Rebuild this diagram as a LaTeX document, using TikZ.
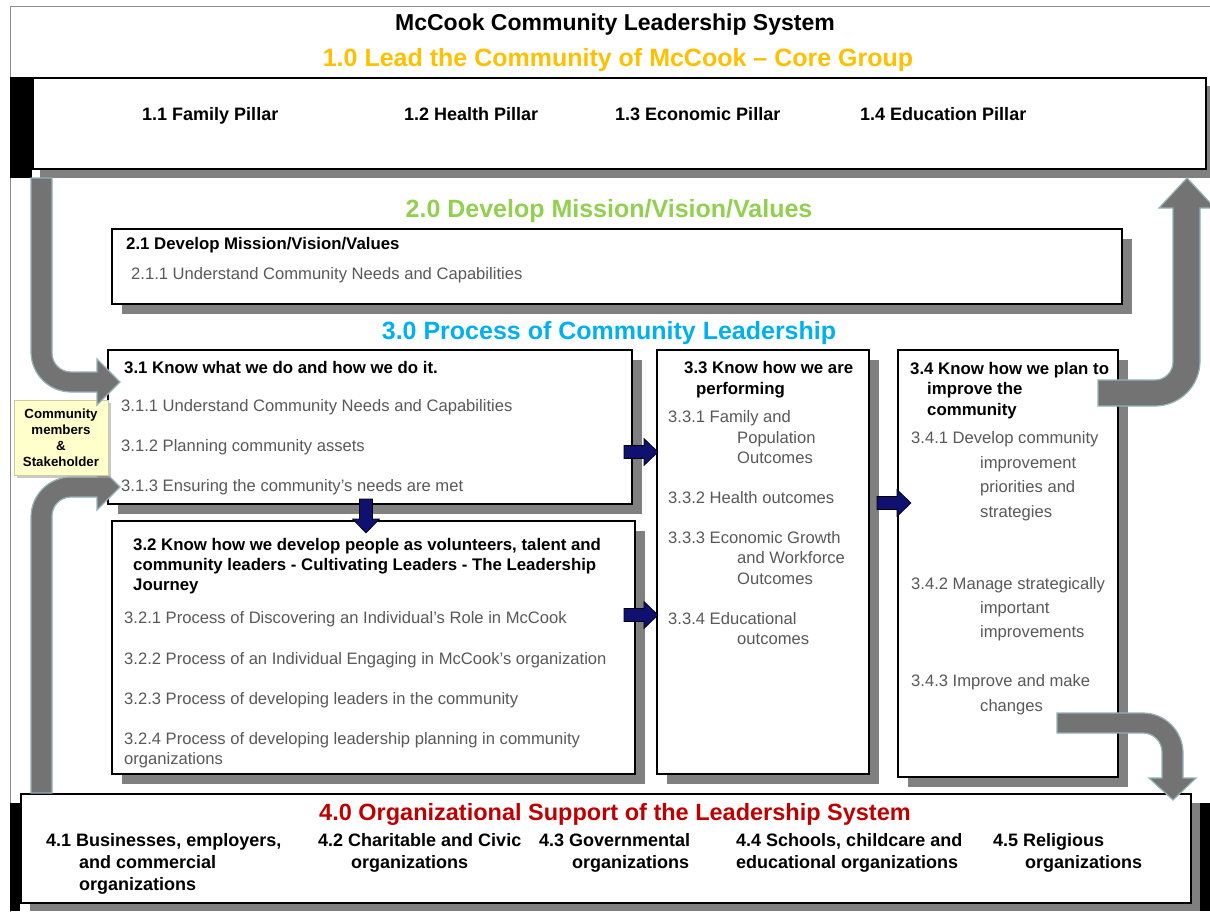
\documentclass[tikz,border=0pt]{standalone}
\usepackage{fontspec}
\setmainfont{Liberation Sans}
\usetikzlibrary{shadows}
\definecolor{gold}{HTML}{FFC000}
\definecolor{mgreen}{HTML}{92D050}
\definecolor{mblue}{HTML}{00B0F0}
\definecolor{mred}{HTML}{C00000}
\definecolor{itemgray}{HTML}{595959}
\definecolor{shadowgray}{HTML}{808080}
\definecolor{arrowgray}{HTML}{737373}
\definecolor{arrowedge}{HTML}{93B3B7}
\definecolor{navy}{RGB}{16,16,112}
\definecolor{cream}{HTML}{FFFFCC}
\definecolor{framegray}{HTML}{8C8C8C}
\begin{document}
\begin{tikzpicture}[x=1pt,y=-1pt,
  box/.style={draw=black, line width=1.6pt, fill=white, inner sep=0pt, anchor=north west,
    drop shadow={shadow xshift=10pt, shadow yshift=-10pt, fill=shadowgray, opacity=1}},
  plainbox/.style={draw=black, line width=1.6pt, fill=white, inner sep=0pt, anchor=north west},
  hd/.style={anchor=base west, inner sep=0pt, font={\fontsize{16.8}{20}\selectfont\bfseries}, text=black},
  it/.style={anchor=base west, inner sep=0pt, font={\fontsize{16.6}{20}\selectfont}, text=itemgray},
  pil/.style={anchor=base west, inner sep=0pt, font={\fontsize{18}{22}\selectfont\bfseries}, text=black},
  big/.style={anchor=base, inner sep=0pt, font={\fontsize{25}{28}\selectfont\bfseries}},
  bigarrow/.style={fill=arrowgray, draw=arrowedge, line width=1.2pt, line join=miter},
  navyarrow/.style={fill=navy, draw=black, line width=0.6pt, line join=miter},
  commbox/.style={fill=cream, draw=cream!80!black, line width=0.4pt, align=center,
    font={\fontsize{13.3}{16}\selectfont\bfseries}, inner sep=0pt,
    drop shadow={shadow xshift=3pt, shadow yshift=-3pt, fill=black!35, opacity=0.6}}
]
\clip (0,0) rectangle (1210,911);
\fill[white] (0,0) rectangle (1210,911);
% outer frame
\draw[framegray, line width=1pt] (10,6) rectangle (1230,930);

% titles
\node[anchor=base, inner sep=0pt, font={\fontsize{23}{26}\selectfont\bfseries}] (title) at (615,30) {McCook Community Leadership System};
\node[big, text=gold] (t10) at (618,66) {1.0 Lead the Community of McCook – Core Group};

% pillar box
\fill[black] (10,77) rectangle (32,178);
\fill[shadowgray] (40,86) rectangle (1215,178);
\node[plainbox, minimum width=1173pt, minimum height=91pt] (b10) at (32,77) {};
\node[pil] (p11) at (142,120.5) {1.1 Family Pillar};
\node[pil] (p12) at (404,120.5) {1.2 Health Pillar};
\node[pil] (p13) at (615,120.5) {1.3 Economic Pillar};
\node[pil] (p14) at (860,120.5) {1.4 Education Pillar};

% 4.0 box
\fill[shadowgray] (30,803) rectangle (1200,911);
\fill[black] (10,803) rectangle (20,911);
\fill[black] (1200,803) rectangle (1210,911);
\node[plainbox, minimum width=1170pt, minimum height=109pt] (b40) at (20,793) {};

% 2.0
\node[big, text=mgreen] (t20) at (609,217) {2.0 Develop Mission/Vision/Values};
\node[box, minimum width=1010pt, minimum height=75pt] (b21) at (111,228) {};

% 3.0
\node[big, text=mblue] (t30) at (609,339) {3.0 Process of Community Leadership};
\node[box, minimum width=524pt, minimum height=154pt] (b31) at (107,349) {};
\node[box, minimum width=523pt, minimum height=253pt] (b32) at (111,520) {};
\node[box, minimum width=212pt, minimum height=424pt] (b33) at (656,349) {};
\node[box, minimum width=220pt, minimum height=427pt] (b34) at (897,349) {};

% big grey arrows (left)
\draw[bigarrow] (31,793) -- (31,517) .. controls (31,495) and (49,477) .. (71,477) -- (97,477) -- (97,464) -- (120,487) -- (97,510) -- (97,497) -- (71,497) .. controls (60.5,497) and (52,505.5) .. (52,516) -- (52,793) -- cycle;
\node[commbox, minimum width=94pt, minimum height=75pt] (comm) at (61,437.5) {Community\\members\\\&\\Stakeholder};
\draw[bigarrow] (31,178) -- (31,352) .. controls (31,374) and (49,392) .. (71,392) -- (97,392) -- (97,405) -- (120,382) -- (97,359) -- (97,372) -- (71,372) .. controls (60.5,372) and (52,363.5) .. (52,353) -- (52,178) -- cycle;

% big grey arrows (right)
\draw[bigarrow] (1098,380) -- (1155,380) .. controls (1164.9,380) and (1173,371.9) .. (1173,362) -- (1173,208) -- (1159,208) -- (1187,178) -- (1215,208) -- (1200,208) -- (1200,361) .. controls (1200,385.9) and (1179.9,406) .. (1155,406) -- (1098,406) -- cycle;
\draw[bigarrow] (1057,713) -- (1143,713) .. controls (1165,713) and (1183,731) .. (1183,753) -- (1183,778) -- (1196,778) -- (1173,800) -- (1149,778) -- (1162,778) -- (1162,752) .. controls (1162,741.5) and (1153.5,733) .. (1143,733) -- (1057,733) -- cycle;

% navy block arrows (tip at shift point)
\draw[navyarrow, shift={(658,452)}] (-34,-6.5) -- (-14,-6.5) -- (-14,-13.5) -- (0,0) -- (-14,13.5) -- (-14,6.5) -- (-34,6.5) -- cycle;
\draw[navyarrow, shift={(658,615)}] (-34,-6.5) -- (-14,-6.5) -- (-14,-13.5) -- (0,0) -- (-14,13.5) -- (-14,6.5) -- (-34,6.5) -- cycle;
\draw[navyarrow, shift={(911,503)}] (-34,-6.5) -- (-14,-6.5) -- (-14,-13.5) -- (0,0) -- (-14,13.5) -- (-14,6.5) -- (-34,6.5) -- cycle;
\draw[navyarrow, shift={(366,533)}] (-6.5,-34) -- (-6.5,-14) -- (-13.5,-14) -- (0,0) -- (13.5,-14) -- (6.5,-14) -- (6.5,-34) -- cycle;

% 2.1 texts
\node[hd] (h21) at (126,249) {2.1 Develop Mission/Vision/Values};
\node[it] (i211) at (131,279) {2.1.1 Understand Community Needs and Capabilities};

% 3.1 texts
\node[hd] (h31) at (124,373) {3.1 Know what we do and how we do it.};
\node[it] (i311) at (121,411) {3.1.1 Understand Community Needs and Capabilities};
\node[it] (i312) at (121,451) {3.1.2 Planning community assets};
\node[it] (i313) at (121,491) {3.1.3 Ensuring the community’s needs are met};

% 3.2 texts
\node[hd] (h32a) at (133,550) {3.2 Know how we develop people as volunteers, talent and};
\node[hd] (h32b) at (133,570) {community leaders - Cultivating Leaders - The Leadership};
\node[hd] (h32c) at (133,590) {Journey};
\node[it] (i321) at (124,623) {3.2.1 Process of Discovering an Individual’s Role in McCook};
\node[it] (i322) at (124,664) {3.2.2 Process of an Individual Engaging in McCook’s organization};
\node[it] (i323) at (124,704) {3.2.3 Process of developing leaders in the community};
\node[it] (i324a) at (124,744) {3.2.4 Process of developing leadership planning in community};
\node[it] (i324b) at (124,764) {organizations};

% 3.3 texts
\node[hd] (h33a) at (684,373) {3.3 Know how we are};
\node[hd] (h33b) at (696,394) {performing};
\node[it] (i331a) at (668,422) {3.3.1 Family and};
\node[it] (i331b) at (737,443) {Population};
\node[it] (i331c) at (737,463) {Outcomes};
\node[it] (i332) at (668,503) {3.3.2 Health outcomes};
\node[it] (i333a) at (668,543) {3.3.3 Economic Growth};
\node[it] (i333b) at (737,563) {and Workforce};
\node[it] (i333c) at (737,584) {Outcomes};
\node[it] (i334a) at (668,624) {3.3.4 Educational};
\node[it] (i334b) at (737,644) {outcomes};

% 3.4 texts
\node[hd] (h34a) at (910,374) {3.4 Know how we plan to};
\node[hd] (h34b) at (927,394) {improve the};
\node[hd] (h34c) at (927,415) {community};
\node[it] (i341a) at (911,443) {3.4.1 Develop community};
\node[it] (i341b) at (980,468) {improvement};
\node[it] (i341c) at (980,492) {priorities and};
\node[it] (i341d) at (980,517) {strategies};
\node[it] (i342a) at (911,589) {3.4.2 Manage strategically};
\node[it] (i342b) at (980,613) {important};
\node[it] (i342c) at (980,637) {improvements};
\node[it] (i343a) at (911,686) {3.4.3 Improve and make};
\node[it] (i343b) at (980,711) {changes};

% 4.0 texts
\node[anchor=base, inner sep=0pt, font={\fontsize{23.5}{26}\selectfont\bfseries}, text=mred] (t40) at (615,820) {4.0 Organizational Support of the Leadership System};
\node[pil] (o41a) at (46,846.5) {4.1 Businesses, employers,};
\node[pil] (o41b) at (79,868.5) {and commercial};
\node[pil] (o41c) at (79,890.5) {organizations};
\node[pil] (o42a) at (318,846.5) {4.2 Charitable and Civic};
\node[pil] (o42b) at (351,868.5) {organizations};
\node[pil] (o43a) at (539,846.5) {4.3 Governmental};
\node[pil] (o43b) at (572,868.5) {organizations};
\node[pil] (o44a) at (736,846.5) {4.4 Schools, childcare and};
\node[pil] (o44b) at (736,868.5) {educational organizations};
\node[pil] (o45a) at (993,846.5) {4.5 Religious};
\node[pil] (o45b) at (1025,868.5) {organizations};
\end{tikzpicture}
\end{document}
